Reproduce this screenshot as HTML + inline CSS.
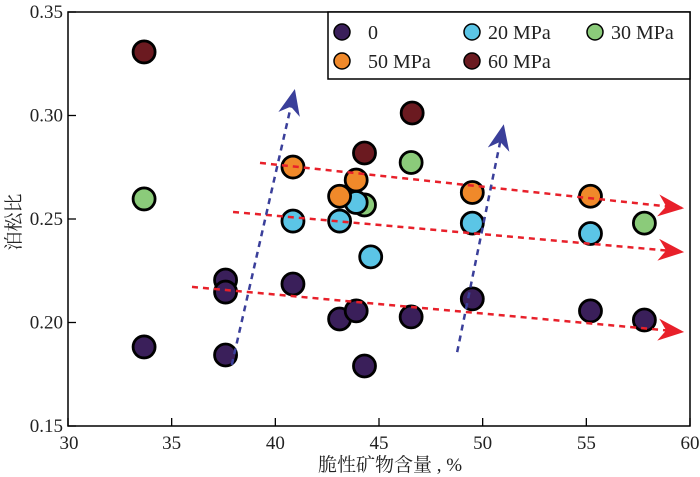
<!DOCTYPE html>
<html><head><meta charset="utf-8">
<style>
html,body{margin:0;padding:0;background:#fff;}
svg{display:block;font-family:"Liberation Serif","Noto Serif CJK SC",serif;}
</style></head>
<body>
<svg id="chart" width="700" height="477" viewBox="0 0 700 477">
<defs>
<marker id="redhead" markerWidth="28" markerHeight="22" refX="24" refY="11" orient="auto" markerUnits="userSpaceOnUse">
<path d="M0,0 L26,11 L0,22 L8,11 Z" fill="#e8202a"/></marker>
<marker id="bluehead" markerWidth="28" markerHeight="22" refX="22" refY="11" orient="auto" markerUnits="userSpaceOnUse">
<path d="M0,0 L26,11 L0,22 L8,11 Z" fill="#3a3f9a"/></marker>
</defs>
<g id="pts"></g>
<g id="annot"></g>
<rect x="68" y="12" width="622" height="414" fill="none" stroke="#000" stroke-width="1.5"/>
<g id="axes"></g>
<text transform="translate(20,222) rotate(-90)" text-anchor="middle" font-size="19" fill="#222">泊松比</text>
<text x="390" y="471" text-anchor="middle" font-size="19" fill="#222">脆性矿物含量 , %</text>
<g>
<rect x="328" y="12" width="362" height="67" fill="#fff" stroke="#000" stroke-width="1.5"/>
<g id="leg"></g>
</g>
</svg>
<script>
const seriesNames=["0","20 MPa","30 MPa","50 MPa","60 MPa"];
const seriesColors=["#3a1f5a","#5bc5e6","#8bcb7a","#f0892a","#6b1a20"];
const x0=[33.67,37.6,37.6,37.6,40.85,43.1,43.9,44.3,46.55,49.5,55.2,57.8];
const y0=[0.1882,0.1843,0.2205,0.2147,0.2186,0.2017,0.2056,0.179,0.2027,0.2114,0.2056,0.2012];
const x20=[40.85,43.1,43.9,44.6,49.5,55.2];
const y20=[0.249,0.249,0.258,0.2317,0.248,0.243];
const x30=[33.67,46.55,44.3,57.8];
const y30=[0.2597,0.2773,0.2568,0.248];
const x50=[40.85,43.1,43.9,49.5,55.2];
const y50=[0.2751,0.261,0.2688,0.2628,0.261];
const x60=[33.67,46.6,44.3];
const y60=[0.3307,0.3012,0.2819];
const xTicks=[30,35,40,45,50,55,60];
const yTicks=[0.15,0.20,0.25,0.30,0.35];
const yTickLabels=["0.15","0.20","0.25","0.30","0.35"];
const redArrows=[[39.26,0.2771,59.62,0.2553],[37.96,0.2534,59.62,0.2341],[35.98,0.2172,59.62,0.1955]];
const blueArrows=[[37.9,0.1795,40.9,0.3109],[48.77,0.1857,50.98,0.2939]];

const NS="http://www.w3.org/2000/svg";
const sx=v=>68+(v-30)*(622/30);
const sy=v=>426-(v-0.15)*(414/0.2);
function mk(tag,attrs,parent){const e=document.createElementNS(NS,tag);for(const k in attrs)e.setAttribute(k,attrs[k]);parent.appendChild(e);return e;}
const axes=document.getElementById('axes');
xTicks.forEach((t,i)=>{
  const l=mk('line',{x1:sx(t),x2:sx(t),y1:426,y2:418,stroke:'#000','stroke-width':1.3},axes);
  
  
  const tx=mk('text',{x:sx(t)+(i==0?1:0),y:449,'text-anchor':'middle','font-size':19,fill:'#222'},axes);
  tx.textContent=t;
  
  
});
yTicks.forEach((t,i)=>{
  const l=mk('line',{x1:68,x2:76,y1:sy(t),y2:sy(t),stroke:'#000','stroke-width':1.3},axes);
  
  
  const tx=mk('text',{x:63,y:sy(t)+6,'text-anchor':'end','font-size':19,fill:'#222'},axes);
  tx.textContent=yTickLabels[i];
  
  
});
const annot=document.getElementById('annot');
redArrows.forEach(a=>{
  const l=mk('line',{x1:sx(a[0]),y1:sy(a[1]),x2:sx(a[2]),y2:sy(a[3]),stroke:'#e8202a','stroke-width':2.5,'stroke-dasharray':'6,5','marker-end':'url(#redhead)'},annot);
  
  
});
blueArrows.forEach(a=>{
  const l=mk('line',{x1:sx(a[0]),y1:sy(a[1]),x2:sx(a[2]),y2:sy(a[3]),stroke:'#3a3f9a','stroke-width':2.5,'stroke-dasharray':'6,5','marker-end':'url(#bluehead)'},annot);
  
  
});
const pts=document.getElementById('pts');
const sets=[[x0,y0,0],[x30,y30,2],[x20,y20,1],[x60,y60,4],[x50,y50,3]];
sets.forEach(s=>{
  const si=s[2];
  s[0].forEach((xv,i)=>{
    const c=mk('circle',{cx:sx(xv),cy:sy(s[1][i]),r:11,fill:seriesColors[si],stroke:'#000','stroke-width':2.8},pts);
    
    
  });
});
const leg=document.getElementById('leg');
const legPos=[[342,32],[472,32],[595,32],[342,61],[472,61]];
seriesNames.forEach((n,i)=>{
  const c=mk('circle',{cx:legPos[i][0],cy:legPos[i][1],r:8,fill:seriesColors[i],stroke:'#000','stroke-width':1.5},leg);
  
  
  const t=mk('text',{x:legPos[i][0]+(i==0||i==3?26:16),y:legPos[i][1]+7,'font-size':20,fill:'#222'},leg);
  t.textContent=n;
  
  
});
</script>
</body></html>
